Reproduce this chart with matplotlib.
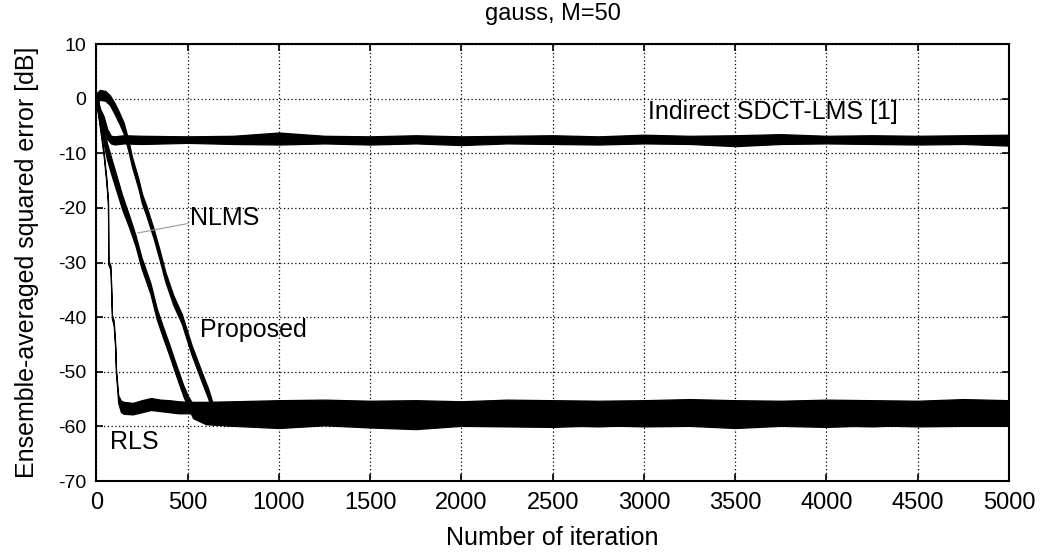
import numpy as np
import matplotlib
matplotlib.use('Agg')
import matplotlib.pyplot as plt

plt.rcParams['font.family'] = ['Liberation Sans', 'DejaVu Sans']
plt.rcParams['axes.unicode_minus'] = False

# values (dB), upper / lower edge of each noisy curve
steady_iters = [750, 1000, 1250, 1500, 1750, 2000, 2250, 2500, 2750, 3000,
                3250, 3500, 3750, 4000, 4250, 4500, 4750, 5000]

ind_iters = [0, 20, 40, 60, 80, 100, 150, 250, 500]
ind_hi = [0.8, -1.8, -3.2, -5.6, -6.8, -6.9, -6.7, -6.8, -6.9]
ind_lo = [-0.8, -3.4, -5.0, -7.4, -8.2, -8.4, -8.2, -8.3, -8.1]
ind_hi_s = [-6.8, -6.2, -6.8, -6.9, -6.7, -6.9, -6.8, -6.7, -6.9, -6.6,
            -6.8, -6.7, -6.5, -6.8, -6.7, -6.8, -6.7, -6.6]
ind_lo_s = [-8.3, -8.4, -8.2, -8.4, -8.2, -8.5, -8.2, -8.3, -8.4, -8.2,
            -8.3, -8.7, -8.3, -8.2, -8.3, -8.4, -8.3, -8.6]

nlms_iters = [0, 15, 31, 59, 86, 115, 141, 180, 214, 247, 296, 332, 368,
              400, 431, 476, 500, 530, 600]
nlms_hi = [1.0, -1.2, -4.0, -8.2, -11.3, -14.6, -17.6, -21.4, -24.9, -29.0,
           -33.7, -38.5, -42.0, -45.0, -48.1, -52.4, -54.3, -56.0, -56.6]
nlms_lo = [-1.0, -3.8, -6.8, -11.2, -14.3, -17.4, -20.2, -23.6, -26.9, -31.0,
           -35.7, -40.5, -44.0, -47.0, -50.1, -54.4, -56.3, -58.5, -59.6]
nlms_hi_s = [-56.6, -56.7, -56.5, -56.6, -56.8, -56.6, -56.5, -56.7, -56.6,
             -56.5, -56.7, -56.6, -56.6, -56.7, -56.5, -56.6, -56.7, -56.6]
nlms_lo_s = [-59.9, -60.3, -59.8, -60.2, -60.5, -59.9, -60.0, -60.1, -59.8,
             -60.0, -59.9, -60.3, -59.9, -60.1, -59.8, -60.0, -59.9, -59.9]

prop_iters = [0, 20, 50, 75, 100, 125, 150, 175, 195, 230, 250, 272, 314,
              350, 378, 422, 468, 522, 577, 613, 640, 680]
prop_hi = [1.0, 1.6, 1.4, 0.6, -0.8, -2.5, -4.4, -7.5, -10.6, -14.6, -17.4,
           -19.4, -23.8, -28.1, -31.7, -36.0, -39.4, -45.1, -50.0, -53.1,
           -56.0, -56.9]
prop_lo = [-1.0, -0.2, -0.4, -1.2, -2.8, -4.5, -6.4, -9.5, -12.4, -16.4,
           -19.2, -21.2, -25.6, -29.9, -33.5, -37.8, -41.2, -46.9, -51.8,
           -54.9, -58.0, -59.7]
prop_hi_s = [-56.9, -56.8, -57.0, -56.9, -56.8, -57.0, -56.9, -56.8, -56.9,
             -57.0, -56.8, -56.9, -57.0, -56.8, -56.9, -56.9, -56.8, -56.9]
prop_lo_s = [-59.8, -59.9, -59.7, -60.0, -59.8, -59.7, -59.9, -59.8, -60.0,
             -59.7, -59.8, -59.9, -59.7, -59.8, -60.0, -59.7, -59.8, -59.9]

rls_iters = [0, 20, 40, 55, 64, 66, 78, 86, 95, 103, 108, 120, 135, 150,
             200, 250, 300, 350, 400, 450, 500, 600]
rls_hi = [0.4, -4.6, -9.6, -14.6, -18.6, -29.6, -30.6, -39.6, -40.6, -44.6,
          -49.6, -54.3, -55.3, -55.5, -55.7, -55.2, -54.8, -55.1, -55.2,
          -55.4, -55.5, -55.5]
rls_lo = [-0.4, -5.4, -10.4, -15.4, -19.4, -30.4, -31.4, -40.4, -41.4, -45.4,
          -50.4, -55.7, -57.4, -57.7, -57.8, -57.4, -57.0, -57.2, -57.4,
          -57.6, -57.6, -57.8]
rls_hi_s = [-55.4, -55.2, -55.1, -55.3, -55.2, -55.4, -55.1, -55.2, -55.3,
            -55.2, -55.0, -55.2, -55.3, -55.1, -55.2, -55.3, -55.0, -55.2]
rls_lo_s = [-57.8, -57.9, -57.7, -57.8, -58.0, -57.8, -57.7, -57.9, -57.8,
            -57.7, -57.9, -57.8, -57.8, -57.9, -57.7, -57.8, -57.9, -57.8]

x_ticks = [0, 500, 1000, 1500, 2000, 2500, 3000, 3500, 4000, 4500, 5000]
y_ticks = [-70, -60, -50, -40, -30, -20, -10, 0, 10]

curves = [
    (ind_iters, ind_hi, ind_lo, ind_hi_s, ind_lo_s),
    (nlms_iters, nlms_hi, nlms_lo, nlms_hi_s, nlms_lo_s),
    (prop_iters, prop_hi, prop_lo, prop_hi_s, prop_lo_s),
    (rls_iters, rls_hi, rls_lo, rls_hi_s, rls_lo_s),
]

fig = plt.figure(figsize=(10.4, 5.55), dpi=100)
ax = fig.add_axes([0.0926, 0.1333, 0.8776, 0.7874])

for it, hi, lo, hi_s, lo_s in curves:
    x = np.array(it + steady_iters)
    upper = np.array(hi + hi_s)
    lower = np.array(lo + lo_s)
    ax.fill_between(x, lower, upper, facecolor='black', edgecolor='black',
                    linewidth=0.9, zorder=3)

ax.set_xlim(0, 5000)
ax.set_ylim(-70, 10)
ax.set_xticks(x_ticks)
ax.set_yticks(y_ticks)
ax.grid(True, color='black', linestyle=(0, (1, 2)), linewidth=0.9, zorder=1)
ax.set_axisbelow(True)
ax.tick_params(direction='in', top=True, right=True, length=5, width=1.2)
ax.tick_params(axis='x', labelsize=17, pad=8)
ax.tick_params(axis='y', labelsize=14, pad=7)
for s in ax.spines.values():
    s.set_linewidth(1.5)

ax.set_xlabel('Number of iteration', fontsize=18)
ax.xaxis.label.set_va('center')
ax.xaxis.set_label_coords(0.5, -0.13)
ax.set_ylabel('Ensemble-averaged squared error [dB]', fontsize=18)
ax.yaxis.label.set_va('center')
ax.yaxis.set_label_coords(-0.076, 0.5)
ax.text(0.5, 1.069, 'gauss, M=50', fontsize=17, ha='center', va='center',
        transform=ax.transAxes)

ax.text(3023, -2.4, 'Indirect SDCT-LMS [1]', fontsize=18, va='center', zorder=5)
ax.annotate('NLMS', xy=(225, -24.6), xytext=(515, -21.9), fontsize=18,
            va='center', zorder=5,
            arrowprops=dict(arrowstyle='-', color='0.6', lw=0.8,
                            shrinkA=0, shrinkB=0, relpos=(0, 0.3)))
ax.text(570, -42.4, 'Proposed', fontsize=18, va='center', zorder=5)
ax.text(77, -62.9, 'RLS', fontsize=18, va='center', zorder=5)

fig.savefig('out.png', dpi=100, facecolor='white')
